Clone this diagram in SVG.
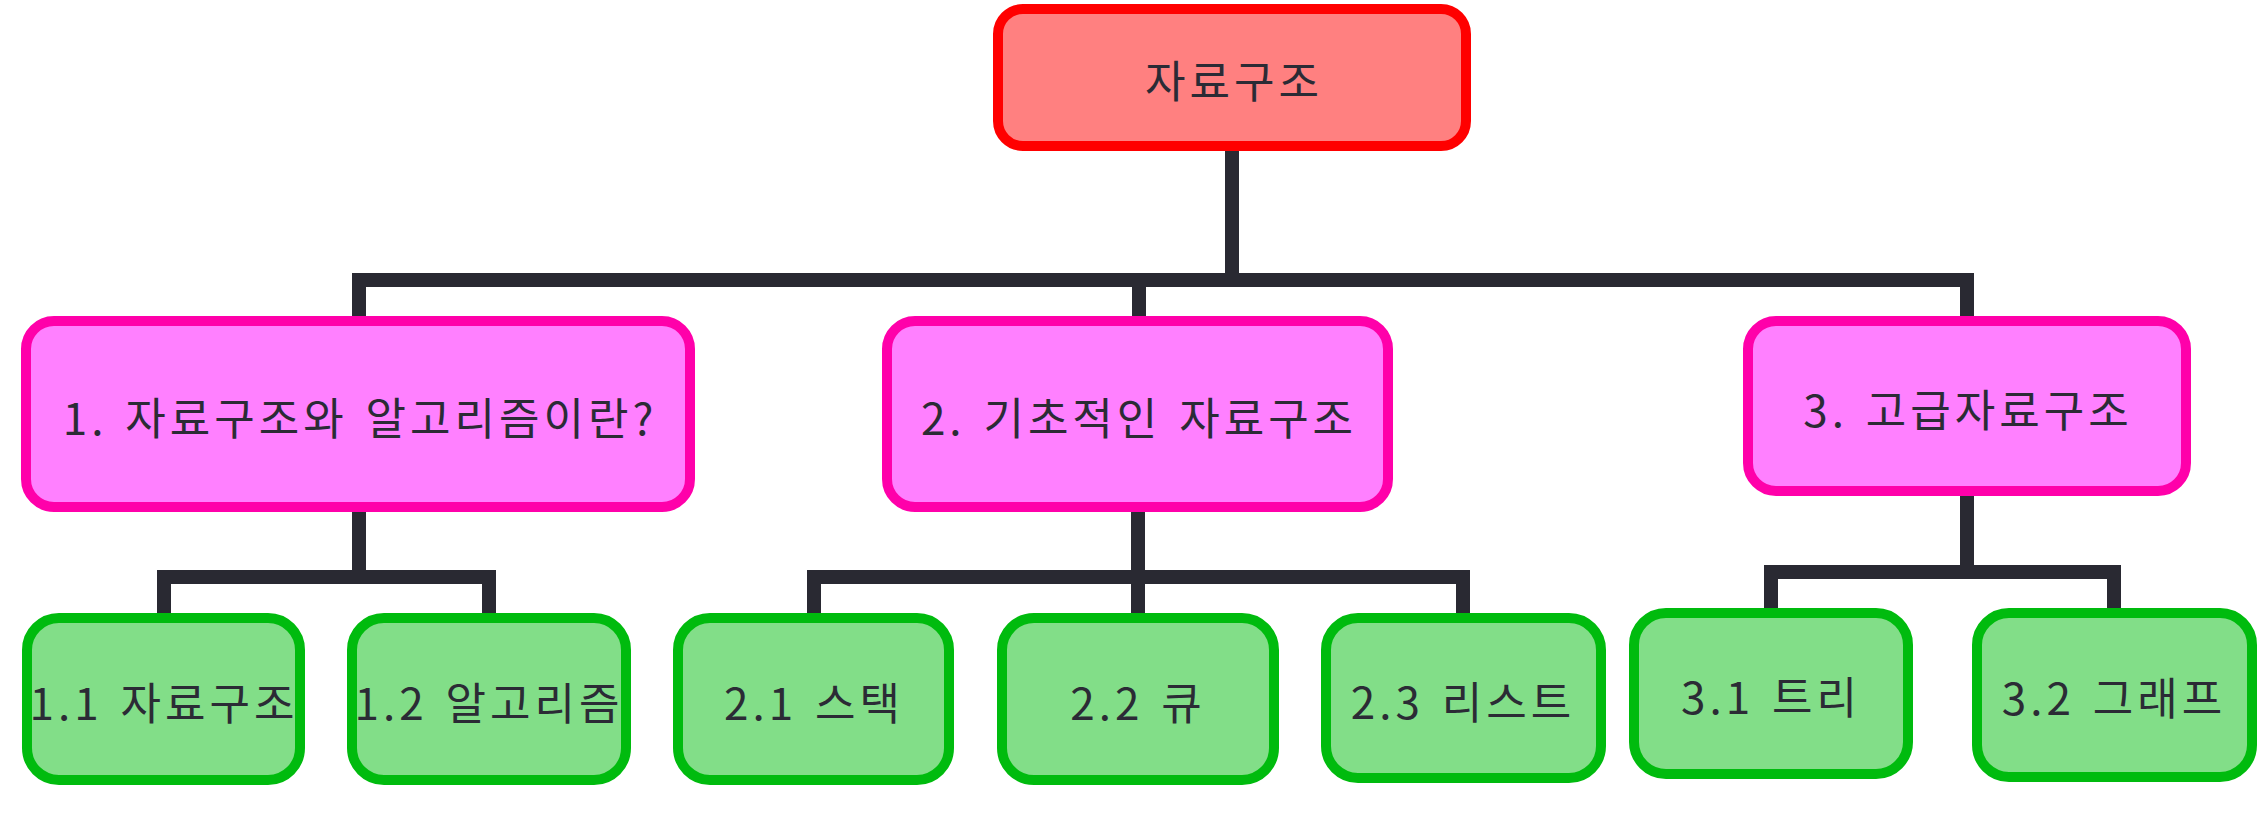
<svg xmlns="http://www.w3.org/2000/svg" width="2259" height="829" viewBox="0 0 2259 829">
<style>
.root rect{fill:#FF8080;stroke:#FF0000;stroke-width:10}
.l1 rect{fill:#FF80FF;stroke:#FF00AA;stroke-width:10}
.l2 rect{fill:#82DE88;stroke:#00BB0E;stroke-width:10}
text{font-family:"Noto Sans CJK KR","Noto Sans",sans-serif;font-size:44px;fill:#2B2B35;text-anchor:middle;dominant-baseline:central;letter-spacing:4px;word-spacing:4px}
.conn path{fill:none;stroke:#292932;stroke-width:14;stroke-linejoin:miter;stroke-linecap:butt}
</style>
<rect width="2259" height="829" fill="#FFFFFF"/>
<g class="conn" id="connectors">
<path d="M1232,151 V280"/>
<path d="M359,316 V280 H1967 V316"/>
<path d="M1139,280 V316"/>
<path d="M359,512 V577"/>
<path d="M164,613 V577 H489 V613"/>
<path d="M1138,512 V613"/>
<path d="M814,613 V577 H1463 V613"/>
<path d="M1967,496 V572"/>
<path d="M1771,608 V572 H2114 V608"/>
</g>
<g id="root" class="root"><rect x="998" y="9" width="468" height="137" rx="25"/><text x="1234" y="79">자료구조</text></g>
<g id="n1" class="l1"><rect x="26" y="321" width="664" height="186" rx="28"/><text x="360" y="416">1. 자료구조와 알고리즘이란?</text></g>
<g id="n2" class="l1"><rect x="887" y="321" width="501" height="186" rx="28"/><text x="1139" y="416">2. 기초적인 자료구조</text></g>
<g id="n3" class="l1"><rect x="1748" y="321" width="438" height="170" rx="28"/><text x="1968" y="408">3. 고급자료구조</text></g>
<g id="n11" class="l2"><rect x="27" y="618" width="273" height="162" rx="32"/><text x="164" y="701">1.1 자료구조</text></g>
<g id="n12" class="l2"><rect x="352" y="618" width="274" height="162" rx="32"/><text x="489" y="701">1.2 알고리즘</text></g>
<g id="n21" class="l2"><rect x="678" y="618" width="271" height="162" rx="32"/><text x="814" y="701">2.1 스택</text></g>
<g id="n22" class="l2"><rect x="1002" y="618" width="272" height="162" rx="32"/><text x="1138" y="701">2.2 큐</text></g>
<g id="n23" class="l2"><rect x="1326" y="618" width="275" height="160" rx="32"/><text x="1463" y="700">2.3 리스트</text></g>
<g id="n31" class="l2"><rect x="1634" y="613" width="274" height="161" rx="32"/><text x="1771" y="695">3.1 트리</text></g>
<g id="n32" class="l2"><rect x="1977" y="613" width="275" height="164" rx="32"/><text x="2114" y="696">3.2 그래프</text></g>
</svg>
